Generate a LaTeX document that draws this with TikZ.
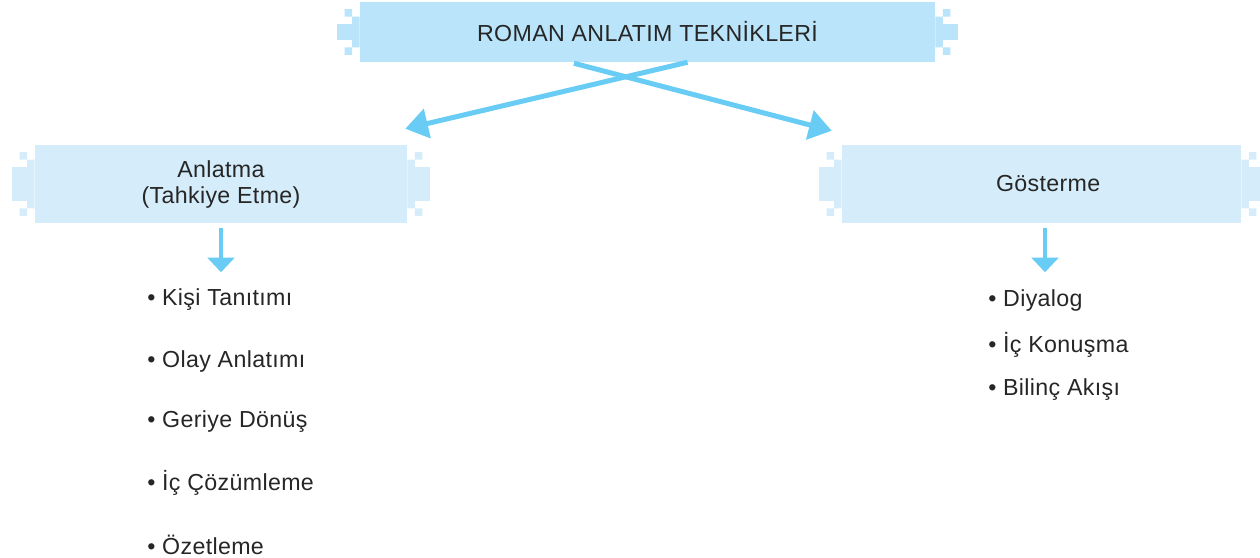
\documentclass[tikz,border=0pt]{standalone}
\usepackage{fontspec}
\setmainfont{Liberation Sans}[LetterSpace=1.5]
\usetikzlibrary{
    arrows.meta,
    calc
}
\definecolor{titleblue}{RGB}{185,228,250}
\definecolor{boxblue}{RGB}{213,237,250}
\definecolor{arrowblue}{RGB}{104,204,245}

% pixel unit of the stepped box ends
\newcommand{\pu}{7.5}

% stepped ends left and right of a box node
\newcommand{\pixelends}[2]{%
    \fill[#2]
        % right end
        ($(#1.north east)+(0,2*\pu)$) rectangle ($(#1.south east)+(\pu,-2*\pu)$)
        ($(#1.north east)+(\pu,\pu)$) rectangle ($(#1.north east)+(2*\pu,2*\pu)$)
        ($(#1.south east)+(\pu,-2*\pu)$) rectangle ($(#1.south east)+(2*\pu,-\pu)$)
        ($(#1.north east)+(\pu,3*\pu)$) rectangle ($(#1.south east)+(3*\pu,-3*\pu)$)
        % left end
        ($(#1.north west)+(0,2*\pu)$) rectangle ($(#1.south west)+(-\pu,-2*\pu)$)
        ($(#1.north west)+(-\pu,\pu)$) rectangle ($(#1.north west)+(-2*\pu,2*\pu)$)
        ($(#1.south west)+(-\pu,-2*\pu)$) rectangle ($(#1.south west)+(-2*\pu,-\pu)$)
        ($(#1.north west)+(-\pu,3*\pu)$) rectangle ($(#1.south west)+(-3*\pu,-3*\pu)$);
}

\begin{document}
\begin{tikzpicture}[
    x=0.75pt,
    y=-0.75pt,
    every node/.style={
        font=\fontsize{17.4pt}{19.5pt}\selectfont,
        text=black!85
    },
    pixbox/.style={
        rectangle,
        fill=#1,
        inner sep=0pt,
        align=center
    },
    item/.style={
        anchor=west,
        inner sep=0pt
    },
    crossarrow/.style={
        arrowblue,
        line width=3.75pt,
        -{Triangle[length=17pt,width=22pt]}
    },
    downarrow/.style={
        arrowblue,
        line width=3pt,
        -{Triangle[length=11pt,width=20pt]}
    }
]

    \useasboundingbox (0,0) rectangle (1260,557);

    % Title box
    \node[
        pixbox=titleblue,
        minimum width=431.25pt,
        minimum height=45pt
    ] (title) at (647.5,32)
        {ROMAN ANLATIM TEKNİKLERİ};
    \pixelends{title}{titleblue}

    % Technique boxes
    \node[
        pixbox=boxblue,
        minimum width=279pt,
        minimum height=58.5pt
    ] (anlatma) at (221,184)
        {Anlatma\\(Tahkiye Etme)};
    \pixelends{anlatma}{boxblue}

    \node[
        pixbox=boxblue,
        minimum width=299.25pt,
        minimum height=58.5pt
    ] (gosterme) at (1041.5,184)
        {\hspace*{10pt}Gösterme};
    \pixelends{gosterme}{boxblue}

    % Crossing arrows
    \coordinate (fromL) at ($(title.south)+(40,0)$);
    \coordinate (fromR) at ($(title.south)+(-73.5,1)$);
    \coordinate (toL) at ($(anlatma.north east)+(-2,-16)$);
    \coordinate (toR) at ($(gosterme.north west)+(-10,-14)$);

    \draw[crossarrow] (fromL) -- (toL);
    \draw[crossarrow] (fromR) -- (toR);

    % Down arrows
    \draw[downarrow]
        ($(anlatma.south)+(0,5)$)
        -- ($(anlatma.south)+(0,49)$)
        coordinate (listL);
    \draw[downarrow]
        ($(gosterme.south)+(3.5,5)$)
        -- ($(gosterme.south)+(3.5,49)$)
        coordinate (listR);

    % Anlatma items
    \node[item] (kisi) at (147,300) {• Kişi Tanıtımı};
    \node[item] (olay) at (147,361) {• Olay Anlatımı};
    \node[item] (geri) at (147,422) {• Geriye Dönüş};
    \node[item] (cozum) at (147,483) {• İç Çözümleme};
    \node[item] (ozet) at (147,545) {• Özetleme};

    % Gosterme items
    \node[item] (diyalog) at (988,300) {• Diyalog};
    \node[item] (konusma) at (988,345) {• İç Konuşma};
    \node[item] (bilinc) at (988,390) {• Bilinç Akışı};

\end{tikzpicture}
\end{document}
